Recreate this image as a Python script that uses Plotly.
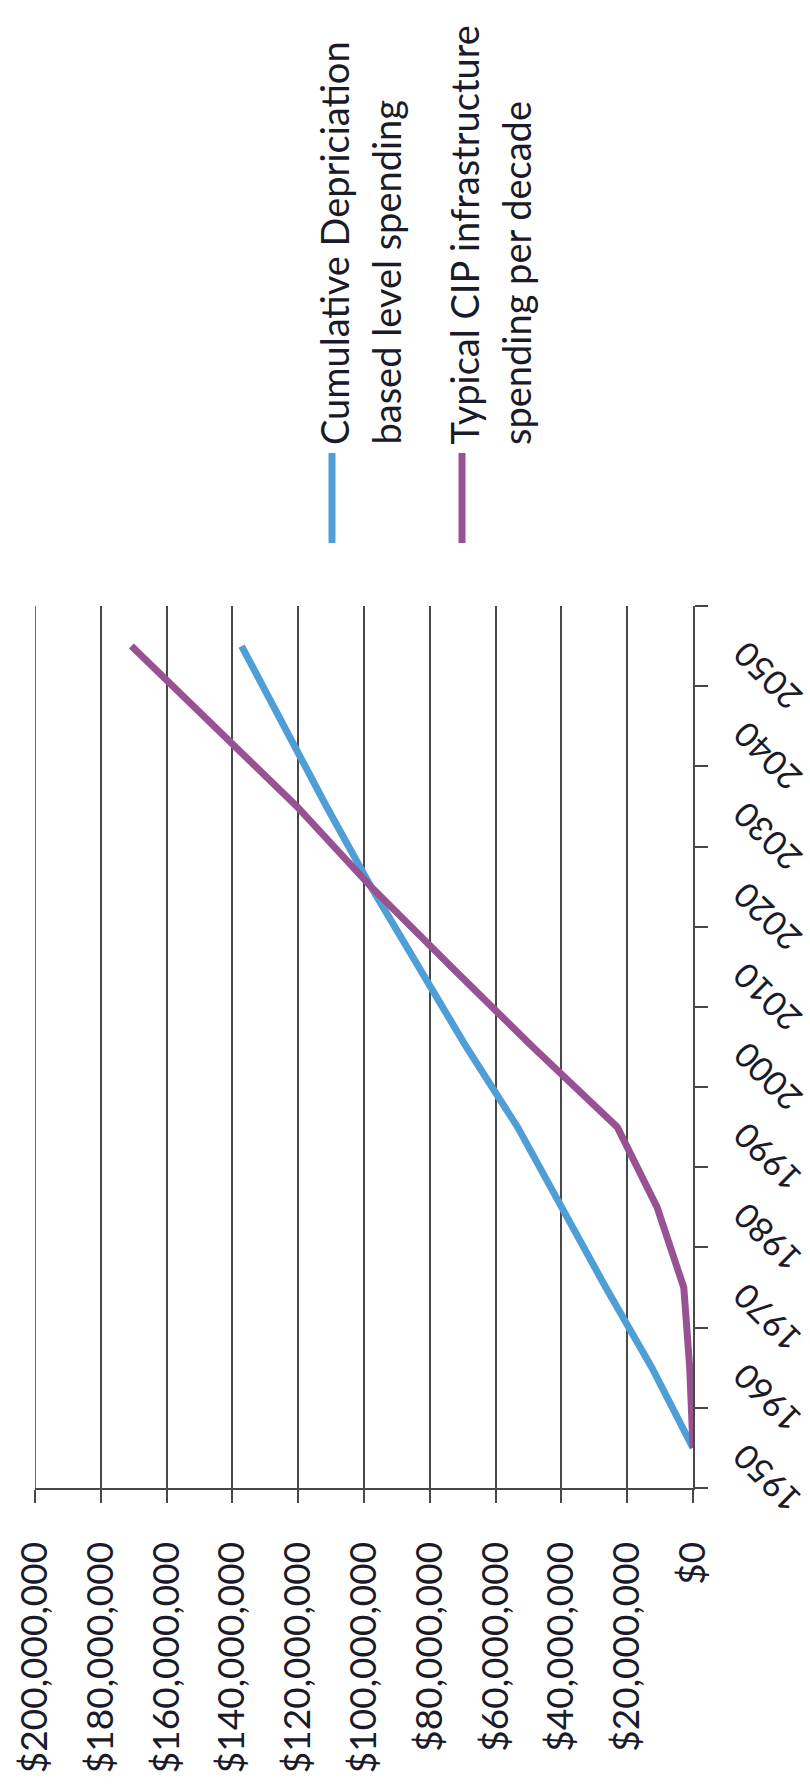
import plotly.graph_objects as go

# ---- data ----
years = ["1950", "1960", "1970", "1980", "1990", "2000", "2010", "2020", "2030", "2040", "2050"]
depreciation_level = [0, 12.5, 26.5, 40.0, 53.3, 68.9, 83.5, 97.9, 111.4, 124.4, 137.2]   # $ millions
cip_typical = [0, 1.0, 2.8, 10.9, 23.0, 48.7, 73.5, 97.9, 120.4, 145.7, 170.7]          # $ millions
series_names = [["Cumulative Depriciation", "based level spending"],
                ["Typical CIP infrastructure", "spending per decade"]]
series_colors = ["#4f9fd6", "#985292"]
value_ticks = list(range(0, 200_000_001, 20_000_000))
value_tick_text = ["${:,}".format(v) for v in value_ticks]

# ---- geometry (pixels of the 810x1784 page) ----
FW, FH = 810, 1784
PL, PR, PT, PB = 35, 693, 606, 1488
PW, PH = PR - PL, PB - PT
FONT = "Lato"
TXT = "#1a1a28"
GRID = "#484848"

def px_x(px):
    return (px - PL) / PW

def px_y(py):
    return (PB - py) / PH

fig = go.Figure()
for vals, name, col in zip([depreciation_level, cip_typical], series_names, series_colors):
    fig.add_trace(go.Scatter(
        x=[v * 1e6 for v in vals], y=years, mode="lines",
        name=" ".join(name), line=dict(color=col, width=7),
        showlegend=False,
    ))

annotations = []
# year labels (rotated like the scanned page)
for i, yr in enumerate(years):
    annotations.append(dict(
        x=1, xref="paper", y=i, yref="y", text=yr, showarrow=False,
        textangle=-135, xanchor="center", yanchor="middle",
        xshift=74, yshift=-31,
        font=dict(family=FONT, size=34, color=TXT),
    ))

# legend text (rotated -90)
legend_lines = [
    (series_names[0][0], 334), (series_names[0][1], 386),
    (series_names[1][0], 464), (series_names[1][1], 516),
]
for txt, cx in legend_lines:
    annotations.append(dict(
        x=px_x(cx), xref="paper", y=px_y(447), yref="paper",
        text=txt, showarrow=False, textangle=-90,
        xanchor="center", yanchor="bottom",
        font=dict(family=FONT, size=38, color=TXT),
    ))

shapes = []
for cx, col in zip([332, 462], series_colors):
    shapes.append(dict(
        type="line", xref="paper", yref="paper",
        x0=px_x(cx), x1=px_x(cx), y0=px_y(453), y1=px_y(543),
        line=dict(color=col, width=7),
    ))
# gridline at the far end of the value axis (plotly skips it at the edge)
shapes.append(dict(
    type="line", xref="x", yref="paper",
    x0=value_ticks[-1], x1=value_ticks[-1], y0=0, y1=1,
    line=dict(color=GRID, width=1.6), layer="below",
))

fig.update_layout(
    width=FW, height=FH,
    margin=dict(l=PL, r=FW - PR, t=PT, b=FH - PB, pad=0),
    paper_bgcolor="white", plot_bgcolor="white",
    annotations=annotations, shapes=shapes,
    xaxis=dict(
        range=[200_000_000, 0], tickmode="array",
        tickvals=value_ticks, ticktext=value_tick_text, tickangle=-90,
        ticks="outside", ticklen=13, tickwidth=2, tickcolor=GRID,
        showline=True, linecolor=GRID, linewidth=2,
        showgrid=True, gridcolor=GRID, gridwidth=1.6,
        zeroline=False, ticklabelstandoff=24, automargin=False,
        tickfont=dict(family=FONT, size=37, color=TXT),
    ),
    yaxis=dict(
        type="category", categoryorder="array", categoryarray=years,
        range=[-0.5, len(years) - 0.5], side="right",
        showline=True, linecolor=GRID, linewidth=2,
        ticks="outside", ticklen=13, tickwidth=2, tickcolor=GRID,
        tickson="boundaries", showgrid=False, showticklabels=False,
        zeroline=False, automargin=False,
    ),
)

fig.write_html("out.html")
